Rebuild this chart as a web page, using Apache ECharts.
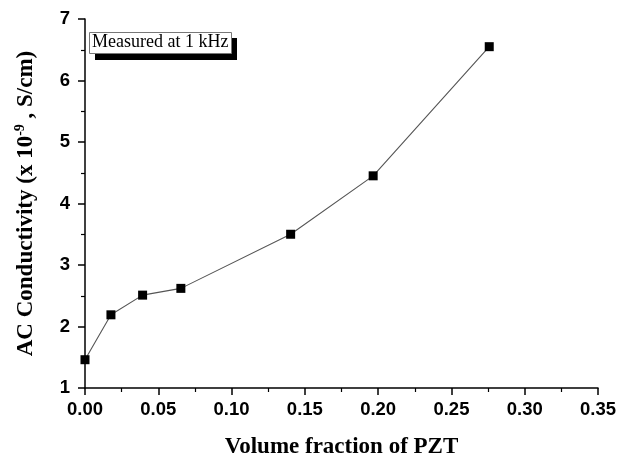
<!DOCTYPE html>
<html>
<head>
<meta charset="utf-8">
<script src="https://cdn.jsdelivr.net/npm/echarts@6/dist/echarts.min.js"></script>
<style>html,body{margin:0;padding:0;background:#fff;}#c{width:619px;height:464px;}</style>
</head>
<body>
<div id="c"></div>
<script>
const volumeFraction = [0.0, 0.0177, 0.0393, 0.0654, 0.1403, 0.1966, 0.2758];
const conductivity = [1.46, 2.19, 2.51, 2.62, 3.50, 4.45, 6.55];
const xTickLabels = ['0.00','0.05','0.10','0.15','0.20','0.25','0.30','0.35'];
const legendText = 'Measured at 1 kHz';

const chart = echarts.init(document.getElementById('c'), null, {renderer: 'canvas'});
const axisLabelStyle = {fontFamily: '"Liberation Sans", Arial, sans-serif', fontWeight: 'bold', fontSize: 18.5, color: '#000'};
const titleFont = '"Liberation Serif", "Times New Roman", serif';
chart.setOption({
  animation: false,
  backgroundColor: '#fff',
  grid: {left: 85, right: 20, top: 19, bottom: 68},
  xAxis: {
    type: 'value', min: 0, max: 0.35, interval: 0.05,
    name: 'Volume fraction of PZT', nameLocation: 'middle', nameGap: 48,
    nameTextStyle: {fontFamily: titleFont, fontWeight: 'bold', fontSize: 23, color: '#000'},
    axisLine: {show: true, lineStyle: {color: '#000', width: 1.5}},
    axisTick: {show: true, inside: false, length: 7, lineStyle: {color: '#000', width: 1.5}},
    minorTick: {show: true, splitNumber: 2, length: 4, lineStyle: {color: '#000', width: 1.2}},
    splitLine: {show: false},
    axisLabel: Object.assign({margin: 12, formatter: (v) => xTickLabels[Math.round(v / 0.05)]}, axisLabelStyle)
  },
  yAxis: {
    type: 'value', min: 1, max: 7, interval: 1,
    name: '{t|AC Conductivity (x 10}{s|-9}{t| , S/cm)}', nameLocation: 'middle', nameGap: 46, nameRotate: 90,
    nameTextStyle: {rich: {
      t: {fontFamily: titleFont, fontWeight: 'bold', fontSize: 23, color: '#000'},
      s: {fontFamily: titleFont, fontWeight: 'bold', fontSize: 14, color: '#000', verticalAlign: 'top', padding: [0,0,12,0]}
    }},
    axisLine: {show: true, lineStyle: {color: '#000', width: 1.5}},
    axisTick: {show: true, inside: false, length: 7, lineStyle: {color: '#000', width: 1.5}},
    minorTick: {show: true, splitNumber: 2, length: 4, lineStyle: {color: '#000', width: 1.2}},
    splitLine: {show: false},
    axisLabel: Object.assign({margin: 15}, axisLabelStyle)
  },
  series: [{
    type: 'line',
    data: volumeFraction.map((x, i) => [x, conductivity[i]]),
    symbol: 'rect', symbolSize: 9,
    itemStyle: {color: '#000'},
    lineStyle: {color: '#555', width: 1.1},
    z: 3
  }],
  graphic: [
    {type: 'rect', left: 95, top: 38, shape: {width: 142, height: 22}, style: {fill: '#000'}},
    {type: 'rect', left: 89, top: 32, shape: {width: 142, height: 21}, style: {fill: '#fff', stroke: '#777', lineWidth: 1}},
    {type: 'text', left: 92, top: 33, style: {text: legendText, font: '18px "Liberation Serif", "Times New Roman", serif', fill: '#000'}}
  ]
});
</script>
</body>
</html>
